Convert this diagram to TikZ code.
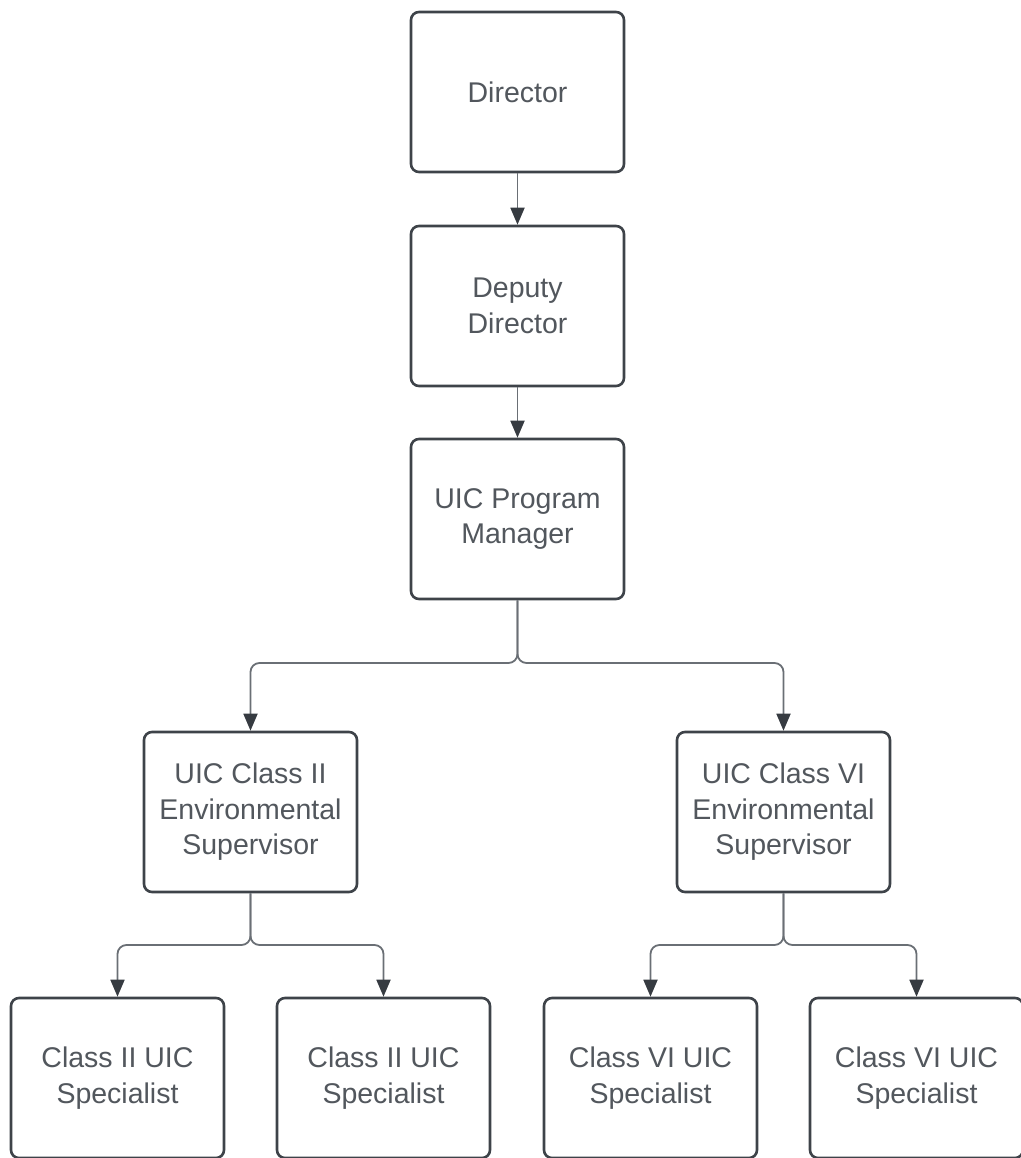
\documentclass[tikz,border=0pt]{standalone}
\usepackage{fontspec}
\setmainfont{Liberation Sans}
\usetikzlibrary{arrows.meta}
\definecolor{boxline}{HTML}{3E4349}
\definecolor{txt}{HTML}{52575D}
\definecolor{conn}{HTML}{6A6F75}
\definecolor{tip}{HTML}{363B41}
\begin{document}
\begin{tikzpicture}[x=1pt,y=-1pt,
  orgbox/.style={draw=boxline, line width=2.6pt, rounded corners=8pt, fill=white,
    minimum width=213pt, minimum height=160pt, align=center, text=txt,
    font=\fontsize{28.5}{35.5}\selectfont, inner sep=0pt},
  conn/.style={draw=conn, line width=1.8pt, rounded corners=9pt,
    -{Triangle[width=14pt,length=17pt,fill=tip,color=tip]}}]
\useasboundingbox (0,0) rectangle (1020,1158);
\node[orgbox] (dir) at (517.5,92) {Director};
\node[orgbox] (dep) at (517.5,306) {Deputy\\Director};
\node[orgbox] (pm) at (517.5,519) {UIC Program\\Manager};
\node[orgbox] (s2) at (250.5,812) {UIC Class II\\Environmental\\Supervisor};
\node[orgbox] (s6) at (783.5,812) {UIC Class VI\\Environmental\\Supervisor};
\node[orgbox] (a1) at (117.5,1078) {Class II UIC\\Specialist};
\node[orgbox] (a2) at (383.5,1078) {Class II UIC\\Specialist};
\node[orgbox] (b1) at (650.5,1078) {Class VI UIC\\Specialist};
\node[orgbox] (b2) at (916.5,1078) {Class VI UIC\\Specialist};
\coordinate (jpm) at (517.5,663);
\coordinate (js2) at (250.5,945);
\coordinate (js6) at (783.5,945);
\draw[conn] (dir.south) -- (dep.north);
\draw[conn] (dep.south) -- (pm.north);
\draw[conn] (pm.south) -- (jpm) -| (s2.north);
\draw[conn] (pm.south) -- (jpm) -| (s6.north);
\draw[conn] (s2.south) -- (js2) -| (a1.north);
\draw[conn] (s2.south) -- (js2) -| (a2.north);
\draw[conn] (s6.south) -- (js6) -| (b1.north);
\draw[conn] (s6.south) -- (js6) -| (b2.north);
\end{tikzpicture}
\end{document}
